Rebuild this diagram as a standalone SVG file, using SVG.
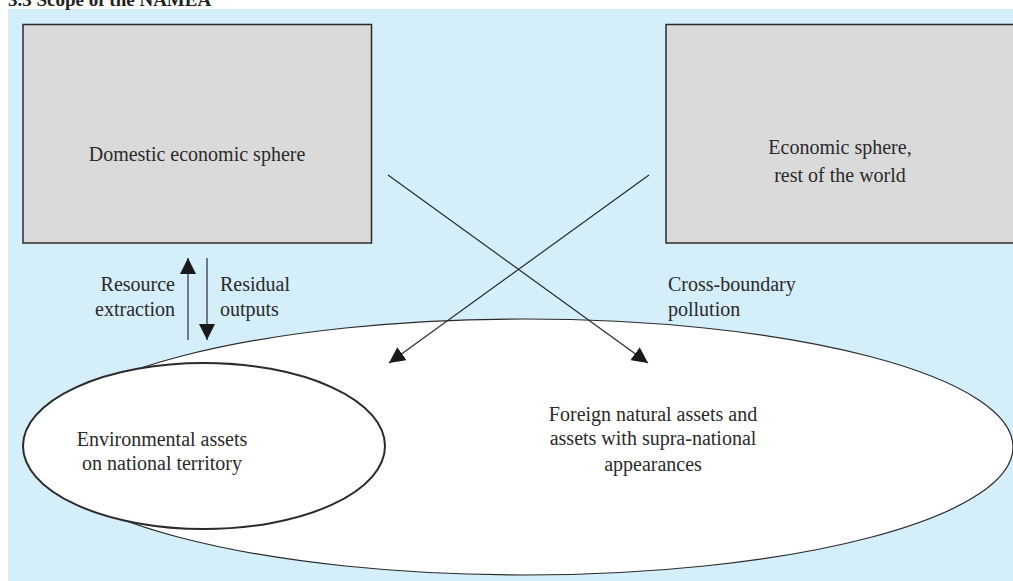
<svg xmlns="http://www.w3.org/2000/svg" width="1013" height="581" viewBox="0 0 1013 581">
  <defs>
    <marker id="arrow" viewBox="0 0 10 10" refX="10" refY="5" markerWidth="16" markerHeight="16" markerUnits="userSpaceOnUse" orient="auto">
      <path d="M0,0 L10,5 L0,10 z" fill="#1a1a1a"/>
    </marker>
    <style>
      .lbl { font-family: "Liberation Serif", "Times New Roman", serif; font-size: 20px; fill: #2a2a2a; }
      .box { fill: #dadadb; stroke: #2a2a2a; stroke-width: 1.5; }
      .ell { fill: #ffffff; stroke: #2a2a2a; }
      .conn { stroke: #2a2a2a; stroke-width: 1.2; fill: none; marker-end: url(#arrow); }
    </style>
  </defs>

  <rect width="1013" height="581" fill="#ffffff"/>
  <rect x="8" y="9" width="1005" height="572" fill="#d4eefa"/>

  <text x="8" y="6" font-family="Liberation Serif, serif" font-size="19" font-weight="bold" fill="#222">3.3  Scope of the NAMEA</text>

  <g id="domestic-sphere">
    <rect class="box" x="23" y="24.5" width="348.5" height="218.5"/>
    <text class="lbl" x="197" y="161" text-anchor="middle">Domestic economic sphere</text>
  </g>

  <g id="rest-of-world">
    <rect class="box" x="666" y="24.5" width="360" height="218.5"/>
    <text class="lbl" x="840" y="154" text-anchor="middle">Economic sphere,</text>
    <text class="lbl" x="840" y="182" text-anchor="middle">rest of the world</text>
  </g>

  <g id="foreign-assets">
    <ellipse class="ell" cx="525" cy="447" rx="488" ry="128" stroke-width="1.2"/>
    <text class="lbl" x="653" y="421" text-anchor="middle">Foreign natural assets and</text>
    <text class="lbl" x="653" y="445" text-anchor="middle">assets with supra-national</text>
    <text class="lbl" x="653" y="471" text-anchor="middle">appearances</text>
  </g>

  <g id="national-assets">
    <ellipse class="ell" cx="204" cy="446" rx="181" ry="83" stroke-width="2"/>
    <text class="lbl" x="162" y="446" text-anchor="middle">Environmental assets</text>
    <text class="lbl" x="162" y="470" text-anchor="middle">on national territory</text>
  </g>

  <g id="connectors">
    <line class="conn" x1="188" y1="340" x2="188" y2="258"/>
    <line class="conn" x1="207" y1="258" x2="207" y2="340"/>
    <line class="conn" x1="388" y1="175" x2="648" y2="363"/>
    <line class="conn" x1="649" y1="175" x2="389" y2="363"/>
  </g>

  <g id="labels">
    <text class="lbl" x="175" y="291" text-anchor="end">Resource</text>
    <text class="lbl" x="175" y="316" text-anchor="end">extraction</text>
    <text class="lbl" x="220" y="291">Residual</text>
    <text class="lbl" x="220" y="316">outputs</text>
    <text class="lbl" x="668" y="291">Cross-boundary</text>
    <text class="lbl" x="668" y="316">pollution</text>
  </g>
</svg>
